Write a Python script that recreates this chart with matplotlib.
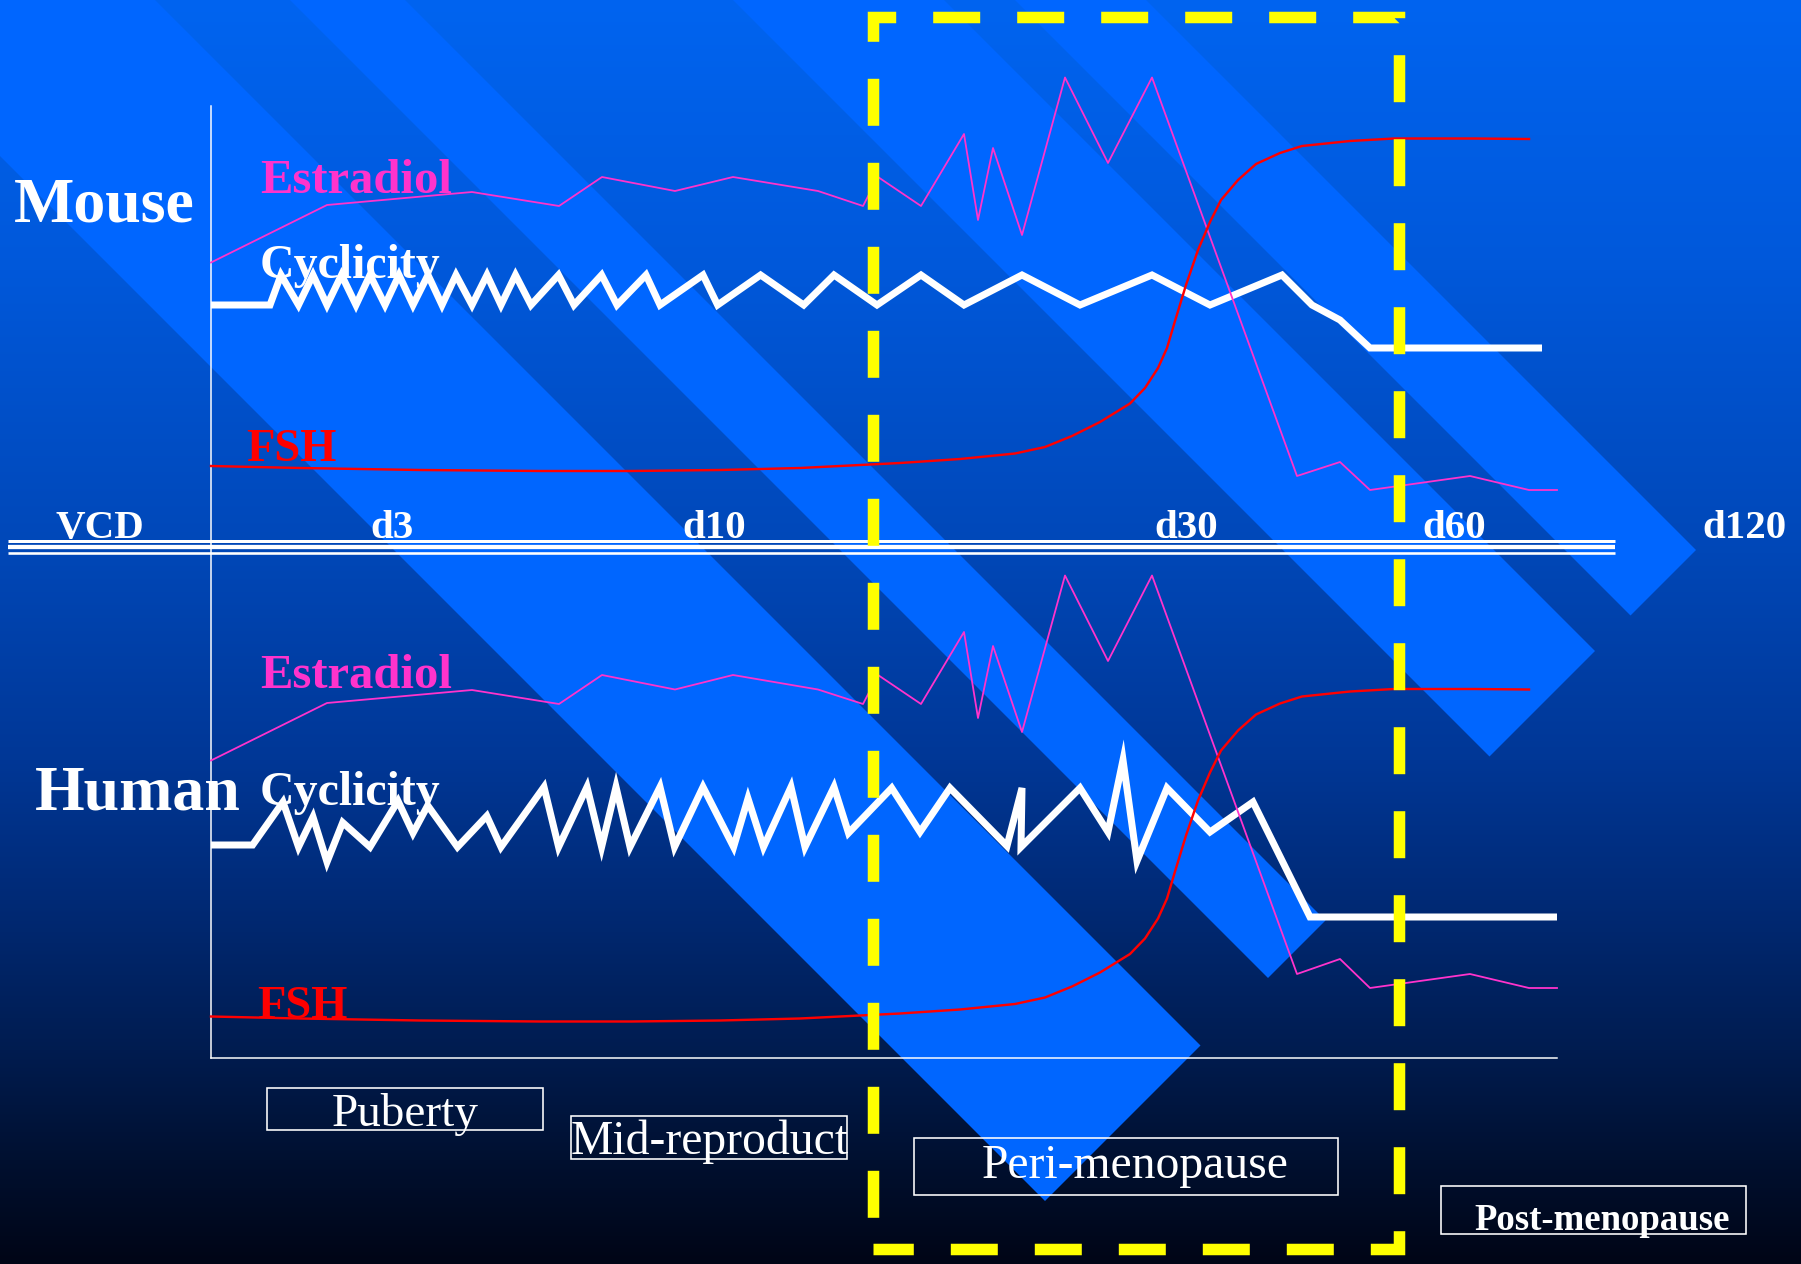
import numpy as np
import matplotlib
matplotlib.use("Agg")
import matplotlib.pyplot as plt
from matplotlib.patches import Polygon, Rectangle

plt.rcParams['font.family'] = ['Liberation Serif', 'DejaVu Serif']
plt.rcParams['lines.scale_dashes'] = False

# ---------------- data (diagram units: x across, y down) ----------------
time_labels = ["VCD", "d3", "d10", "d30", "d60", "d120"]
time_label_x = [99.5, 391.5, 714.5, 1186, 1454.5, 1744.5]

mouse_cyc_x = [211, 270, 281, 298.5, 313, 327, 341.5, 356, 370, 385, 399, 413, 428, 442,
               456, 472, 487, 501, 515.5, 531, 558.5, 574, 601.6, 617, 646, 660, 703,
               717.6, 760.6, 803.7, 834, 877, 921, 964, 1022, 1080, 1152, 1210, 1282,
               1312, 1340, 1370, 1542]
mouse_cyc_y = [305, 305, 275, 305, 275, 305, 275, 305, 275, 305, 275, 305, 275, 305,
               275, 305, 275, 305, 275, 305, 275, 305, 275, 305, 275, 305, 275,
               305, 275, 305, 275, 305, 275, 305, 275, 305, 275, 305, 275,
               305, 320, 348, 348]

human_cyc_x = [211, 252.6, 283, 298.5, 313, 327, 342.7, 370, 398, 413, 427.7, 457.5, 486.8,
               501, 544, 558.6, 587, 601.6, 616, 630, 660, 674.5, 703, 733.6, 748, 763.5,
               791, 805, 834, 848.5, 891.7, 920, 950, 1007, 1022, 1021, 1080, 1108, 1123,
               1137, 1167, 1210, 1253, 1310, 1557]
human_cyc_y = [845, 845, 802, 847, 817, 862, 822.5, 847, 801, 833, 805.5, 847, 816,
               847, 787, 847, 787, 847, 787, 847, 787, 847, 787, 847, 798.5, 847,
               787, 847, 787, 833, 788, 832, 788, 846, 788, 847, 788, 832, 760,
               861, 788, 832, 802, 917, 917]

estr_x = [211, 327, 472, 559, 602, 675, 733, 818, 863, 878, 921, 964, 978, 993, 1022,
          1065, 1108, 1152, 1297, 1340, 1370, 1470, 1529, 1557]
mouse_estr_y = [262.5, 205, 192, 206, 177, 191, 177, 191, 206, 177, 206, 134, 220, 148, 235,
                77.5, 163, 77.5, 476, 462, 490, 476, 490, 490]
human_estr_y = [760.5, 703, 690, 704, 675, 689.5, 675, 689.5, 704, 675, 704, 632, 718, 646, 732,
                575.5, 661, 575.5, 974, 959, 988, 974, 988, 988]

fsh_x = [211, 300, 420, 540, 631, 720, 800, 860, 900, 960, 1015, 1045, 1072, 1100, 1130,
         1145, 1158, 1167, 1175, 1186, 1198, 1210, 1221, 1238, 1256, 1280, 1302, 1350,
         1394, 1474, 1529]
mouse_fsh_y = [466, 468, 470, 471, 471, 470, 468, 465, 463, 459, 453.5, 447, 436, 422, 403.5,
               388, 368, 348, 321, 285, 250, 222, 200, 180, 164, 153, 146, 141,
               138.5, 138.5, 139]
human_fsh_y = [1016.5, 1018.5, 1020.5, 1021.5, 1021.5, 1020.5, 1018.5, 1015.5, 1013.5, 1009.5,
               1004, 997.5, 986.5, 972.5, 954, 938.5, 918.5, 898.5, 871.5, 835.5, 800.5,
               772.5, 750.5, 730.5, 714.5, 703.5, 696.5, 691.5, 689, 689, 689.5]

phase_names = ["Puberty", "Mid-reproduct", "Peri-menopause", "Post-menopause"]

# ---------------- figure ----------------
W, H = 1801, 1264
PT = 0.72  # points per pixel at 100 dpi
fig = plt.figure(figsize=(W / 100, H / 100), dpi=100)
ax = fig.add_axes([0, 0, 1, 1])
ax.set_xlim(0, W)
ax.set_ylim(H, 0)
ax.axis('off')

# background vertical gradient
stops_y = [0, 270, 540, 760, 900, 1050, 1160, 1264]
stops_g = [100, 88, 72, 55, 42, 28, 16, 5]
stops_b = [240, 218, 185, 150, 118, 80, 48, 22]
yy = np.arange(H) + 0.5
g = np.interp(yy, stops_y, stops_g) / 255
b = np.interp(yy, stops_y, stops_b) / 255
grad = np.zeros((H, 1, 3))
grad[:, 0, 1] = g
grad[:, 0, 2] = b
ax.imshow(grad, extent=(0, W, H, 0), aspect='auto', zorder=0, interpolation='bilinear')

# diagonal light stripes (45 deg, all cut on one line)
cap = 2246
stripe_bands = [(156, -155), (-290, -405), (-733, -944), (-1015, -1146)]
for c_hi, c_lo in stripe_bands:
    xa, ya = (cap - c_hi) / 2, (cap + c_hi) / 2
    xb, yb = (cap - c_lo) / 2, (cap + c_lo) / 2
    L = 3000
    ax.add_patch(Polygon([(xa, ya), (xb, yb), (xb - L, yb - L), (xa - L, ya - L)],
                         closed=True, facecolor='#0066FF', edgecolor='none', zorder=1))

# axes lines
ax.plot([211, 211], [106, 1058], color='white', lw=1.5 * PT, zorder=2)
ax.plot([211, 1557], [1058, 1058], color='white', lw=1.5 * PT, zorder=2)
# triple separator
for yline, lw in [(540.8, 3.0), (546.8, 4.3), (553.0, 2.6)]:
    ax.plot([8, 1615], [yline, yline], color='white', lw=lw * PT, solid_capstyle='butt', zorder=2)

# curves
ESTR = '#FF33CC'
for cx, cy in [(mouse_cyc_x, mouse_cyc_y), (human_cyc_x, human_cyc_y)]:
    ax.plot(cx, cy, color='white', lw=7 * PT, solid_joinstyle='miter',
            solid_capstyle='butt', zorder=3)
for ey in [mouse_estr_y, human_estr_y]:
    ax.plot(estr_x, ey, color=ESTR, lw=1.8 * PT, zorder=4)
for fy in [mouse_fsh_y, human_fsh_y]:
    ax.plot(fsh_x, fy, color='#FF0000', lw=2.4 * PT, zorder=4)

# yellow dashed box
ax.plot([872.5, 872.5, 1399, 1399, 872.5], [1248.7, 17, 17, 1248.7, 1248.7],
        color='#FFFF00', lw=11.5 * PT,
        linestyle=(52.3 * PT, (47 * PT, 37 * PT)),
        dash_joinstyle='miter', dash_capstyle='butt', zorder=6)

# labels
def lab(x, y, s, size, color='white', weight='bold', ha='left'):
    ax.text(x, y, s, fontsize=size, color=color, fontweight=weight,
            ha=ha, va='baseline', zorder=7)

lab(14, 221, "Mouse", 46)
lab(35, 810, "Human", 46)
lab(260, 193, "Estradiol", 35, ESTR)
lab(260, 688, "Estradiol", 35, ESTR)
lab(260, 278, "Cyclicity", 34.5)
lab(260, 805, "Cyclicity", 34.5)
lab(246, 461, "FSH", 33.5, '#FF0000')
lab(257, 1018, "FSH", 33.5, '#FF0000')

for s, x in zip(time_labels, time_label_x):
    ax.text(x, 538, s, fontsize=29.5, color='white', fontweight='bold',
            ha='center', va='baseline', zorder=7)

# phase boxes
boxes = [(267, 1088, 275.5, 42), (571, 1116, 276, 42.7), (914, 1138, 424, 57), (1441, 1185.5, 305, 48)]
for (bx, by, bw, bh) in boxes:
    ax.add_patch(Rectangle((bx, by), bw, bh, facecolor='none', edgecolor='white',
                           lw=1.6 * PT, zorder=7))
ax.text(405, 1126, phase_names[0], fontsize=34, color='white', ha='center', va='baseline', zorder=8)
ax.text(571, 1154, phase_names[1], fontsize=34.3, color='white', ha='left', va='baseline', zorder=8)
ax.text(1135.5, 1178, phase_names[2], fontsize=34.3, color='white', ha='center', va='baseline', zorder=8)
ax.text(1474, 1230, phase_names[3], fontsize=26.5, color='white', fontweight='bold',
        ha='left', va='baseline', zorder=8)

fig.savefig("out.png", dpi=100)
